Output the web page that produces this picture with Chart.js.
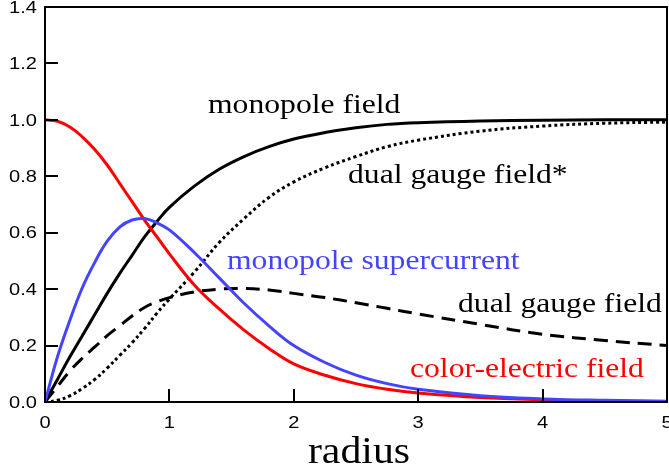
<!DOCTYPE html>
<html>
<head>
<meta charset="utf-8">
<title>Flux tube profiles</title>
<script src="https://cdn.jsdelivr.net/npm/chart.js@4.4.1/dist/chart.umd.min.js"></script>
<style>
    html, body { margin: 0; padding: 0; background: #ffffff; }
    #wrap { width: 669px; height: 474px; }
</style>
</head>
<body>
<div id="wrap"><canvas id="profile" width="669" height="474"></canvas></div>
<script>
// Radial profiles across the flux tube
const radius = [0, 0.1, 0.2, 0.3, 0.4, 0.5, 0.6, 0.7, 0.8, 0.9, 1.0, 1.2, 1.4, 1.6, 1.8, 2.0, 2.25, 2.5, 2.75, 3.0, 3.5, 4.0, 4.5, 5.0];

const colorElectric = [1.0, 0.995, 0.975, 0.94, 0.895, 0.84, 0.775, 0.71, 0.645, 0.585, 0.525, 0.415, 0.33, 0.255, 0.19, 0.135, 0.095, 0.065, 0.045, 0.032, 0.016, 0.008, 0.004, 0.002];
const supercurrent = [0, 0.16, 0.29, 0.405, 0.495, 0.57, 0.62, 0.645, 0.65, 0.635, 0.61, 0.53, 0.44, 0.35, 0.27, 0.2, 0.14, 0.095, 0.065, 0.045, 0.022, 0.011, 0.006, 0.003];
const monopoleField = [0, 0.08, 0.16, 0.235, 0.31, 0.385, 0.455, 0.52, 0.585, 0.64, 0.69, 0.765, 0.825, 0.87, 0.905, 0.932, 0.955, 0.972, 0.984, 0.99, 0.996, 0.999, 1.0, 1.0];
const dualGauge = [0, 0.055, 0.11, 0.155, 0.195, 0.235, 0.27, 0.305, 0.335, 0.355, 0.37, 0.39, 0.4, 0.402, 0.397, 0.385, 0.37, 0.352, 0.332, 0.312, 0.275, 0.24, 0.218, 0.2];
const dualGaugeStar = [0, 0.006, 0.022, 0.048, 0.08, 0.12, 0.165, 0.21, 0.26, 0.315, 0.365, 0.46, 0.565, 0.65, 0.725, 0.78, 0.83, 0.87, 0.905, 0.928, 0.96, 0.978, 0.988, 0.992];

const xTicks = [0, 1, 2, 3, 4, 5];
const yTicks = [0.0, 0.2, 0.4, 0.6, 0.8, 1.0, 1.2, 1.4];

const RED = '#ff0000';
const BLUE = '#4444ff';
const BLACK = '#000000';

const SANS = '"Liberation Sans", Arial, sans-serif';
const SERIF = '"Liberation Serif", "Times New Roman", serif';

function points(ys) {
    return radius.map((r, i) => ({ x: r, y: ys[i] }));
}

function series(label, ys, color, dash) {
    return {
        label: label,
        data: points(ys),
        borderColor: color,
        borderWidth: 3,
        borderDash: dash || [],
        borderCapStyle: 'butt',
        borderJoinStyle: 'round',
        pointRadius: 0,
        fill: false,
        tension: 0.4
    };
}

// text drawn with a horizontal stretch, the figure's glyphs are wide
function wideText(ctx, text, x, y, font, stretch, color, align, baseline) {
    ctx.save();
    ctx.font = font;
    ctx.fillStyle = color;
    ctx.textAlign = align || 'left';
    ctx.textBaseline = baseline || 'alphabetic';
    ctx.translate(x, y);
    ctx.scale(stretch, 1);
    ctx.fillText(text, 0, 0);
    ctx.restore();
}

// frame, inward ticks, tick labels and curve captions
const frameAndLabels = {
    id: 'frameAndLabels',
    afterDraw(chart) {
        const ctx = chart.ctx;
        const area = chart.chartArea;
        const xs = chart.scales.x;
        const ys = chart.scales.y;
        const tickLen = 13;

        ctx.save();
        ctx.strokeStyle = BLACK;
        ctx.lineWidth = 2;
        ctx.strokeRect(area.left, area.top, area.right - area.left, area.bottom - area.top);

        ctx.beginPath();
        yTicks.forEach(v => {
            const py = Math.round(ys.getPixelForValue(v));
            ctx.moveTo(area.left, py);
            ctx.lineTo(area.left + tickLen, py);
        });
        xTicks.forEach(v => {
            const px = Math.round(xs.getPixelForValue(v));
            ctx.moveTo(px, area.bottom);
            ctx.lineTo(px, area.bottom - tickLen);
        });
        ctx.stroke();
        ctx.restore();

        const tickFont = '17px ' + SANS;
        yTicks.forEach(v => {
            wideText(ctx, v.toFixed(1), area.left - 8, ys.getPixelForValue(v) + 1, tickFont, 1.18, BLACK, 'right', 'middle');
        });
        xTicks.forEach(v => {
            wideText(ctx, String(v), xs.getPixelForValue(v), area.bottom + 21, tickFont, 1.18, BLACK, 'center', 'middle');
        });

        wideText(ctx, 'radius', (area.left + area.right) / 2 + 3, 463, '38px ' + SERIF, 1.1, BLACK, 'center');

        const caption = '28px ' + SERIF;
        wideText(ctx, 'monopole field', 208, 113, caption, 1.13, BLACK);
        wideText(ctx, 'dual gauge field*', 348, 183, caption, 1.13, BLACK);
        wideText(ctx, 'monopole supercurrent', 227, 269, caption, 1.13, BLUE);
        wideText(ctx, 'dual gauge field', 458, 312, caption, 1.13, BLACK);
        wideText(ctx, 'color-electric field', 410, 377, caption, 1.13, RED);
    }
};

function drawChart() {
    new Chart(document.getElementById('profile'), {
        type: 'line',
        data: {
            datasets: [
                series('monopole supercurrent', supercurrent, BLUE),
                series('color-electric field', colorElectric, RED),
                series('monopole field', monopoleField, BLACK),
                series('dual gauge field', dualGauge, BLACK, [14, 8]),
                series('dual gauge field*', dualGaugeStar, BLACK, [3, 3])
            ]
        },
        options: {
            responsive: false,
            animation: false,
            devicePixelRatio: 1,
            layout: {
                padding: { left: 45, top: 7, right: 2, bottom: 72 }
            },
            plugins: {
                legend: { display: false },
                tooltip: { enabled: false }
            },
            scales: {
                x: { type: 'linear', min: 0, max: 5, display: false },
                y: { type: 'linear', min: 0, max: 1.4, display: false }
            }
        },
        plugins: [frameAndLabels]
    });
}

// canvas text needs the fonts in place before the first paint
Promise.all([
    document.fonts.load('17px ' + SANS),
    document.fonts.load('28px ' + SERIF)
]).then(drawChart, drawChart);
</script>
</body>
</html>
